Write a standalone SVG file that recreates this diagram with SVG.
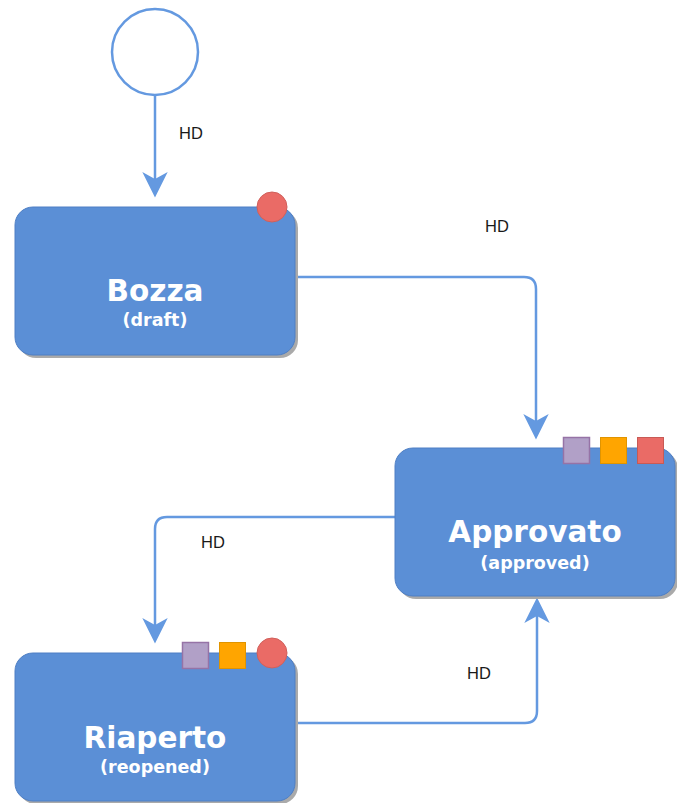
<svg xmlns="http://www.w3.org/2000/svg" width="677" height="803" viewBox="0 0 677 803">
<style>
.box{fill:#5b8fd6;stroke:#4f7fc4;stroke-width:1}
.shadow{fill:#aaaaaa}
.title{font-family:"DejaVu Sans",Verdana,sans-serif;font-weight:bold;font-size:29.5px;fill:#ffffff;text-anchor:middle}
.sub{font-family:"DejaVu Sans",Verdana,sans-serif;font-weight:bold;font-size:17.5px;fill:#ffffff;text-anchor:middle}
.lbl{font-family:"Liberation Sans",Arial,sans-serif;font-size:16.5px;fill:#1a1a1a}
.edge{fill:none;stroke:#6499e0;stroke-width:2.5}
.red{fill:#ea6b66;stroke:#d0605b;stroke-width:1}
.purple{fill:#b1a0c7;stroke:#9673a6;stroke-width:1.5}
.orange{fill:#ffa500;stroke:#e09400;stroke-width:1}
.redsq{fill:#ea6b66;stroke:#c85a55;stroke-width:1}
</style>
<defs>
<marker id="arr" markerUnits="userSpaceOnUse" markerWidth="30" markerHeight="30" viewBox="-8 -13 26 26" refX="0" refY="0" orient="auto">
<path d="M-6,-11 L16,0 L-6,11 L0,0 Z" fill="#6499e0"/>
</marker>
</defs>
<g id="start">
<circle cx="155" cy="52" r="43" fill="#ffffff" stroke="#6499e0" stroke-width="2.5"/>
</g>
<g id="connectors">
<path class="edge" d="M155,95 V179" marker-end="url(#arr)"/>
<path class="edge" d="M295,277 H524 Q536,277 536,289 V421" marker-end="url(#arr)"/>
<path class="edge" d="M395,517 H167 Q155,517 155,529 V625" marker-end="url(#arr)"/>
<path class="edge" d="M295,723 H525 Q537,723 537,711 V616" marker-end="url(#arr)"/>
<text class="lbl" x="179" y="139">HD</text>
<text class="lbl" x="485" y="232">HD</text>
<text class="lbl" x="201" y="548">HD</text>
<text class="lbl" x="467" y="679">HD</text>
</g>
<g id="bozza">
<rect class="shadow" x="18" y="210" width="280" height="148" rx="18"/>
<rect class="box" x="15" y="207" width="280" height="148" rx="18"/>
<text class="title" x="155" y="301">Bozza</text>
<text class="sub" x="155" y="326">(draft)</text>
<circle class="red" cx="272" cy="207" r="15"/>
</g>
<g id="approvato">
<rect class="shadow" x="398" y="451" width="280" height="148" rx="18"/>
<rect class="box" x="395" y="448" width="280" height="148" rx="18"/>
<text class="title" x="535" y="542">Approvato</text>
<text class="sub" x="535" y="569">(approved)</text>
<rect class="purple" x="563.5" y="437.5" width="26" height="26"/>
<rect class="orange" x="600.5" y="437.5" width="26" height="26"/>
<rect class="redsq" x="637.5" y="437.5" width="26" height="26"/>
</g>
<g id="riaperto">
<rect class="shadow" x="18" y="656" width="280" height="148" rx="18"/>
<rect class="box" x="15" y="653" width="280" height="148" rx="18"/>
<text class="title" x="155" y="748">Riaperto</text>
<text class="sub" x="155" y="773">(reopened)</text>
<rect class="purple" x="182.5" y="642.5" width="26" height="26"/>
<rect class="orange" x="219.5" y="642.5" width="26" height="26"/>
<circle class="red" cx="272" cy="653" r="15"/>
</g>
</svg>
